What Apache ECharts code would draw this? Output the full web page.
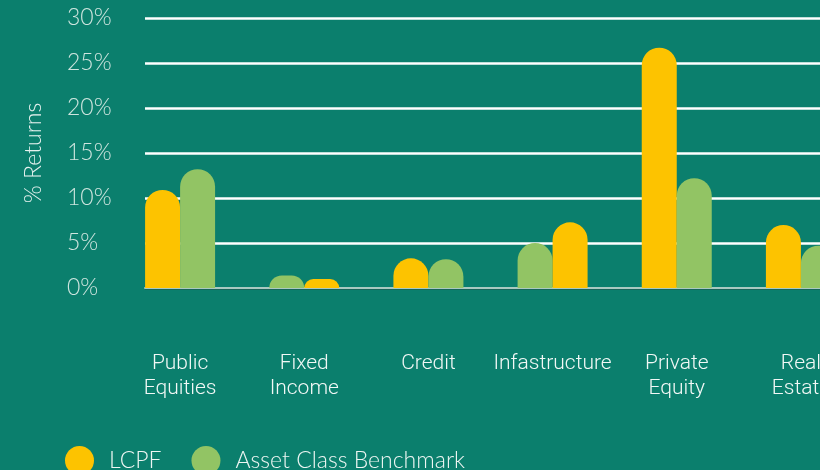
<!DOCTYPE html>
<html lang="en">
<head>
    <meta charset="utf-8">
    <title>LCPF returns by asset class</title>
    <style>
        html, body { margin: 0; padding: 0; background: #0b7f6d; }
        #main { width: 820px; height: 470px; }
    </style>
</head>
<body>
    <div id="main"></div>
    <script src="https://cdn.jsdelivr.net/npm/echarts@6/dist/echarts.min.js"></script>
    <script type="text/javascript">
        // values (% returns)
        var categories = ['Public\nEquities', 'Fixed\nIncome', 'Credit', 'Infastructure', 'Private\nEquity', 'Real\nEstate'];
        var lcpf = [10.9, 1.0, 3.3, 7.3, 26.7, 7.0];
        var benchmark = [13.2, 1.4, 3.2, 5.0, 12.2, 4.7];
        // in the source the bar order flips for some classes
        var lcpfFirst = [true, false, true, false, true, true];
        var yTicks = [0, 5, 10, 15, 20, 25, 30];

        var YELLOW = '#fdc300';
        var GREEN = '#92c464';

        function pick(values, first) {
            return values.map(function (v, i) { return lcpfFirst[i] === first ? v : '-'; });
        }

        function barSeries(name, color, stack, data) {
            return {
                name: name,
                type: 'bar',
                xAxisIndex: 1,
                yAxisIndex: 1,
                stack: stack,
                barWidth: 35,
                barGap: '0%',
                itemStyle: { color: color, borderRadius: [18, 18, 0, 0] },
                data: data
            };
        }

        var myChart = echarts.init(document.getElementById('main'));
        var option = {
            backgroundColor: '#0b7f6d',
            legend: {
                data: ['LCPF', 'Asset Class Benchmark'],
                left: 60,
                top: 441,
                icon: 'circle',
                itemWidth: 29,
                itemHeight: 29,
                itemGap: 30,
                textStyle: {
                    color: '#eef6f3',
                    fontFamily: 'Lato',
                    fontWeight: 300,
                    fontSize: 23,
                    padding: [0, 0, 0, 10]
                }
            },
            grid: [
                // grid lines and y labels
                { left: 145, width: 700, top: 18, bottom: 182, outerBoundsMode: 'none' },
                // bars and category labels (runs past the right edge, as in the cropped source)
                { left: 118, width: 745, top: 18, bottom: 182, outerBoundsMode: 'none' }
            ],
            xAxis: [
                {
                    gridIndex: 0,
                    type: 'category',
                    data: [''],
                    axisTick: { show: false },
                    axisLabel: { show: false },
                    offset: 2,
                    axisLine: { lineStyle: { color: '#a9c9c1', width: 2 } }
                },
                {
                    gridIndex: 1,
                    type: 'category',
                    data: categories,
                    axisLine: { show: false },
                    axisTick: { show: false },
                    axisLabel: {
                        interval: 0,
                        margin: 63,
                        color: '#f2f8f6',
                        fontFamily: 'Roboto',
                        fontWeight: 300,
                        fontSize: 21,
                        lineHeight: 25
                    }
                }
            ],
            yAxis: [
                {
                    gridIndex: 0,
                    type: 'value',
                    min: yTicks[0],
                    max: yTicks[yTicks.length - 1],
                    interval: 5,
                    name: '% Returns',
                    nameLocation: 'middle',
                    nameGap: 100,
                    nameTextStyle: {
                        color: '#e6f2ef',
                        fontFamily: 'Lato',
                        fontWeight: 300,
                        fontSize: 23
                    },
                    axisLine: { show: false },
                    axisTick: { show: false },
                    axisLabel: {
                        formatter: '{value}%',
                        align: 'left',
                        margin: 78,
                        color: '#cfe5df',
                        fontFamily: 'Lato',
                        fontWeight: 300,
                        fontSize: 23
                    },
                    splitLine: {
                        lineStyle: {
                            color: ['#1d5d54', '#ffffff', '#ffffff', '#ffffff', '#ffffff', '#ffffff', '#ffffff'],
                            width: 2.5
                        }
                    }
                },
                {
                    gridIndex: 1,
                    type: 'value',
                    min: yTicks[0],
                    max: yTicks[yTicks.length - 1],
                    show: false,
                    splitLine: { show: false }
                }
            ],
            series: [
                barSeries('LCPF', YELLOW, 'left', pick(lcpf, true)),
                barSeries('Asset Class Benchmark', GREEN, 'left', pick(benchmark, false)),
                barSeries('Asset Class Benchmark', GREEN, 'right', pick(benchmark, true)),
                barSeries('LCPF', YELLOW, 'right', pick(lcpf, false))
            ]
        };
        myChart.setOption(option);
    </script>
</body>
</html>
